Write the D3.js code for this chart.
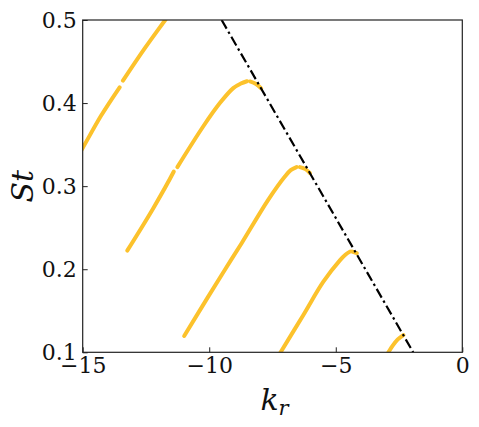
<!DOCTYPE html>
<html>
<head>
<meta charset="utf-8">
<script src="https://cdn.jsdelivr.net/npm/d3@7"></script>
<style>
  html, body { margin: 0; padding: 0; background: #fff; }
  svg { display: block; }
</style>
</head>
<body>
<svg id="chart" width="479" height="427"></svg>
<script>
// ---- data ----
const xTicks = [-15, -10, -5, 0];
const yTicks = [0.1, 0.2, 0.3, 0.4, 0.5];

// branch values; null marks a break in the computed curve
const branch1K  = [-15.2, -15.0, -14.27, -13.54, null, -13.41, -12.55, -11.74, -11.6];
const branch1St = [0.336, 0.346, 0.385, 0.419, null, 0.427, 0.4658, 0.5, 0.506];

const branch2K  = [-13.24, -12.21, -11.40, null, -11.26, -10.24, -9.58, -9.05, -8.75, -8.51, null, -8.39, -8.15, -7.95];
const branch2St = [0.2224, 0.2735, 0.3176, null, 0.3229, 0.3718, 0.400, 0.418, 0.4235, 0.4263, null, 0.426, 0.4229, 0.4176];

const branch3K  = [-10.99, -10.04, -9.38, -8.72, -7.67, -7.01, -6.78, -6.55, null, -6.42, -6.2, -6.02];
const branch3St = [0.1196, 0.167, 0.1994, 0.2313, 0.2835, 0.3116, 0.3192, 0.3229, null, 0.3229, 0.3205, 0.3157];

const branch4K  = [-7.3, -7.18, -6.28, -5.49, -4.83, -4.62, -4.44, null, -4.35, -4.17];
const branch4St = [0.094, 0.1, 0.145, 0.185, 0.211, 0.2175, 0.2212, null, 0.2212, 0.2193];

const branch5K  = [-3.05, -2.92, -2.75, -2.55, -2.33];
const branch5St = [0.094, 0.1, 0.108, 0.1155, 0.1208];

const limitK  = [-9.51, -1.94];
const limitSt = [0.5, 0.1];

// ---- layout ----
const FONT = "font-family:'DejaVu Serif';";
const svg = d3.select("#chart");
const margin = { left: 82.7, top: 20, right: 479 - 462.3, bottom: 427 - 352.3 };
const W = 479 - margin.left - margin.right;
const H = 427 - margin.top - margin.bottom;

const x = d3.scaleLinear().domain([-15, 0]).range([0, W]);
const y = d3.scaleLinear().domain([0.1, 0.5]).range([H, 0]);

const g = svg.append("g").attr("transform", `translate(${margin.left},${margin.top})`);

g.append("clipPath").attr("id", "plotclip")
  .append("rect").attr("x", 0).attr("y", 0).attr("width", W).attr("height", H);

const plot = g.append("g").attr("clip-path", "url(#plotclip)");

function toPts(ks, sts) {
  return ks.map((k, i) => (k === null || sts[i] === null) ? null : [k, sts[i]]);
}

const line = d3.line()
  .defined(d => d !== null)
  .x(d => x(d[0]))
  .y(d => y(d[1]))
  .curve(d3.curveCatmullRom.alpha(0.5));

const branches = [
  toPts(branch1K, branch1St),
  toPts(branch2K, branch2St),
  toPts(branch3K, branch3St),
  toPts(branch4K, branch4St),
  toPts(branch5K, branch5St)
];

plot.selectAll("path.branch").data(branches).join("path")
  .attr("class", "branch")
  .attr("d", line)
  .attr("fill", "none")
  .attr("stroke", "#fcc22c")
  .attr("stroke-width", 4)
  .attr("stroke-linecap", "round")
  .attr("stroke-linejoin", "round");

plot.append("path")
  .datum(toPts(limitK, limitSt))
  .attr("d", d3.line().x(d => x(d[0])).y(d => y(d[1])))
  .attr("fill", "none")
  .attr("stroke", "#000")
  .attr("stroke-width", 2.2)
  .attr("stroke-dasharray", "10,3.5,2.4,3.5");

// ---- axes ----
const xAxis = d3.axisBottom(x).tickValues(xTicks).tickFormat(d3.format("d"))
  .tickSize(-5).tickPadding(5);
const yAxis = d3.axisLeft(y).tickValues(yTicks).tickFormat(d3.format(".1f"))
  .tickSize(-5).tickPadding(6);

const gx = g.append("g").attr("transform", `translate(0,${H})`).call(xAxis);
const gy = g.append("g").call(yAxis);
[gx, gy].forEach(a => {
  a.attr("font-family", null);
  a.select(".domain").remove();
  a.selectAll(".tick line").attr("stroke", "#222").attr("stroke-width", 1);
  a.selectAll(".tick text")
    .attr("style", FONT + "font-size:22px;fill:#111;");
});

// frame
g.append("rect").attr("x", 0).attr("y", 0).attr("width", W).attr("height", H)
  .attr("fill", "none").attr("stroke", "#222").attr("stroke-width", 1.2);

// axis labels
svg.append("text")
  .attr("transform", `translate(33,${margin.top + H / 2}) rotate(-90)`)
  .attr("text-anchor", "middle")
  .attr("style", FONT + "font-size:30px;font-style:italic;fill:#111;")
  .text("St");

const xl = svg.append("text")
  .attr("x", margin.left + W / 2 + 2)
  .attr("y", 410)
  .attr("text-anchor", "middle")
  .attr("style", FONT + "font-size:30px;font-style:italic;fill:#111;");
xl.append("tspan").text("k");
xl.append("tspan").attr("style", "font-size:21px;").attr("dy", 5).text("r");
</script>
</body>
</html>
